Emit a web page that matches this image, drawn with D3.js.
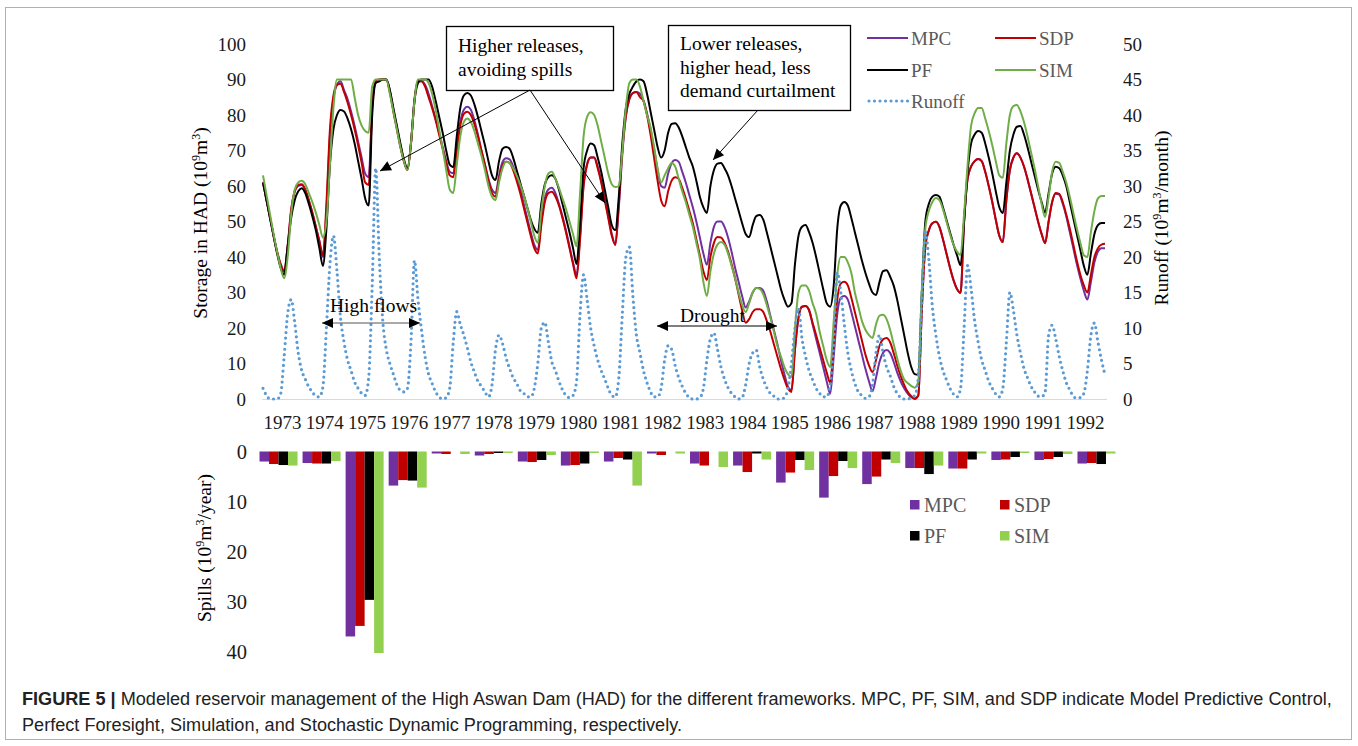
<!DOCTYPE html>
<html>
<head>
<meta charset="utf-8">
<script src="https://cdn.jsdelivr.net/npm/d3@7"></script>
<style>
  body { margin: 0; background: #fff; }
  svg text { font-family: "Liberation Serif", "Times New Roman", serif; }
</style>
</head>
<body>
<svg id="chart" width="1358" height="746"></svg>
<script>
// ===================== data =====================
var years = [1973, 1974, 1975, 1976, 1977, 1978, 1979, 1980, 1981, 1982,
  1983, 1984, 1985, 1986, 1987, 1988, 1989, 1990, 1991, 1992];

// monthly storage in HAD (10^9 m3), Jan 1973 .. Dec 1992
var storageMPC = [
  61, 56, 51, 46, 41.5, 38, 36, 43, 53, 58.5, 60, 60.3,
  59, 56, 52.5, 48.5, 44.5, 40, 53, 74, 84.5, 88.5, 89.5, 87,
  84.5, 81, 77, 72.5, 68, 63.5, 62.5, 83, 89.5, 90, 90, 90,
  87, 81.5, 76.5, 71.5, 67, 64.5, 72, 84.5, 89.5, 89.5, 88.5, 86,
  82.5, 79, 75, 71, 67, 64, 63.6, 71, 78, 81.5, 82.3, 81.5,
  78.5, 74.5, 70, 66, 62, 59, 58, 63, 66.8, 67.8, 67.5, 65.5,
  62.5, 59, 55, 51, 47, 43.5, 42, 50, 56.5, 59, 59.5, 58,
  55, 51.5, 47.5, 43, 38.5, 35, 46, 60.5, 66.2, 68, 68, 65.5,
  61.5, 56.5, 51.5, 46.5, 43.5, 54, 69, 79.5, 84.5, 86.2, 86.5, 86,
  84, 80.5, 76, 70.5, 64.5, 60, 59.5, 63.5, 66.5, 67.3, 66.8, 64,
  61, 57.5, 54, 50, 45.5, 41, 37.8, 44, 48.5, 50, 50, 48.5,
  45.5, 41.5, 37, 33, 29, 25.8, 27.5, 30, 31.3, 31.3, 30.5, 27.5,
  23.5, 19.5, 15.5, 11, 7, 3.5, 2.5, 14, 23, 26, 26.2, 25,
  21, 17, 13, 9, 5, 1.5, 12, 24, 28.5, 29, 28, 24.5,
  20.5, 16.5, 12.5, 8.5, 5, 2.2, 6, 10.5, 13, 13.8, 13, 10.5,
  7.5, 5, 3, 1.5, 0.5, 0.2, 1, 25, 43, 47.5, 49.5, 49.9,
  48.5, 45, 41, 37, 33.5, 31, 29.9, 50, 62, 65.5, 67, 67.6,
  67, 64, 60, 55.5, 50.5, 46, 44.2, 56, 64.5, 68, 69.2, 68,
  65.5, 62, 58, 54, 50, 46.5, 43.9, 50, 55.5, 57.8, 57.6, 55,
  51.5, 47, 42.5, 38, 34, 30.5, 28, 33, 38.5, 41.5, 42.5, 42.5
];
var storageSDP = [
  61, 56, 51, 46, 41.5, 38, 36, 43, 53.5, 58.5, 60.3, 60.5,
  59, 56, 52.5, 48.5, 44.5, 40.5, 55, 76, 85.5, 88.5, 88.8, 86.5,
  83.5, 80, 76, 71.5, 66.5, 61, 60.3, 82, 89.5, 90, 90, 90,
  86.5, 81, 76, 71, 67, 64.5, 72, 84, 89.5, 89.5, 88, 85,
  82, 78.5, 74.5, 70.5, 66.5, 63, 62.5, 70, 77, 80.3, 80.9, 80,
  77.5, 74, 70, 66, 61.5, 58, 57, 62, 65.8, 66.8, 66.5, 64.5,
  61.5, 58, 54, 50, 46, 42.5, 41, 49, 55.5, 58, 58.4, 57,
  54.5, 51, 47, 42.5, 38, 34, 45, 60, 66, 68, 68, 65,
  61, 56, 51, 46, 43.4, 55, 70, 80, 84.5, 86.2, 86.5, 85,
  84, 80, 74.5, 68, 61.5, 56, 54.3, 58.5, 61.5, 62.5, 62, 59.5,
  56.5, 53, 49.5, 45, 40.5, 36, 33.5, 40, 44, 45.6, 45.5, 44,
  41.5, 38, 34, 29.5, 25, 21.5, 22.5, 24.5, 25.3, 25.3, 24.5, 22,
  19, 15.5, 12, 8.5, 5.5, 3, 2, 14, 23, 26, 26.2, 25,
  21.5, 18, 14.5, 11, 7.5, 4.6, 16, 28, 32.5, 33, 32, 28.5,
  24.5, 20.5, 16.5, 12.5, 9.5, 7.6, 11, 15, 16.8, 17.2, 16, 13,
  9.5, 6.5, 4, 2, 0.8, 0, 1, 25, 43, 47.5, 49.5, 49.9,
  48.5, 45, 41, 37, 33.5, 31, 29.9, 50, 62, 65.5, 67, 67.6,
  67, 64, 60, 55.5, 50.5, 46, 44.2, 56, 64.5, 68, 69.2, 68,
  65.5, 62, 58, 54, 50, 46.5, 43.9, 50, 55.5, 58, 57.8, 55.5,
  52, 48, 43.5, 39, 35, 32, 30, 35, 40, 42.5, 43.5, 43.7
];
var storagePF = [
  61, 56, 51, 46, 41, 37, 35, 43, 51, 56, 58.5, 59.4,
  58, 55, 51.5, 47.5, 42.5, 37.5, 48, 66, 76, 80, 81.4, 81,
  79, 76, 72, 67, 62, 56.5, 54.5, 80, 89, 89.5, 90, 90,
  87, 82, 77, 72, 67.5, 65, 72, 84, 89, 90, 90, 90,
  88, 84, 79.5, 75, 70, 66, 65.3, 74, 82, 85.5, 86.2, 85.5,
  83, 79.5, 75.5, 71.5, 67, 63, 61.7, 67, 70.5, 71, 70.5, 68,
  64.5, 61, 57.5, 54, 50.5, 48, 46.8, 55, 60.5, 62.5, 63, 62,
  59, 55, 51, 47, 42.5, 38, 50, 65, 70, 72, 71.5, 68,
  64, 59, 54, 49, 47.6, 57, 72, 82, 86, 88, 89.5, 90,
  89.5, 86, 81, 76, 71, 68, 70, 75, 77.5, 77.7, 76.5, 74,
  71, 68, 65.5, 61.5, 57, 54, 52.4, 60, 64.5, 66.3, 66.5, 65,
  63, 60, 56.5, 53, 49.5, 46.5, 45.6, 49, 51.5, 51.8, 50.5, 47,
  43, 39, 35, 31, 28, 26, 27, 38, 46, 48.5, 49, 47,
  44, 40, 35.5, 31, 27, 26, 32, 48, 54.5, 55.5, 54.5, 51,
  47, 43, 39, 35.5, 32.5, 30, 29.3, 33, 36, 36.3, 34.5, 32,
  28, 23, 18, 13, 9, 7, 6.8, 30, 50, 55, 57, 57.5,
  57, 54, 50.5, 47, 43.5, 40.5, 37.7, 50, 64, 72, 74.5, 75.5,
  75, 72, 68, 63.5, 58.5, 54, 52.4, 61, 70, 74.5, 76.7, 76.9,
  74.5, 71, 67, 63, 59, 55.5, 52.5, 58, 63.5, 65.4, 65, 63,
  60, 55.5, 51, 46.5, 42, 37.5, 35, 41, 46.5, 49, 49.6, 49.6
];
var storageSIM = [
  63, 57.5, 52, 46.5, 41.5, 37, 34, 40, 52, 59, 61, 61.5,
  60.5, 58, 55.5, 52.5, 49, 45.5, 50, 66, 82, 90, 90, 90,
  90, 90, 85, 80, 77, 75.5, 75, 88, 90, 90, 90, 90,
  86, 81, 76, 71, 67, 64.5, 72, 84, 90, 90, 90, 89,
  86, 81.5, 76, 70.5, 64.5, 59, 58, 66, 74, 78, 79, 78,
  75.5, 72, 68.5, 64.5, 60, 57, 56, 61, 65, 66.8, 66.5, 65,
  63, 60.5, 57.5, 54, 50, 46, 44, 53, 60, 63.5, 64, 62,
  59.5, 56.5, 53.5, 50, 46.5, 43, 58, 74, 79.5, 80.8, 80, 77,
  72.5, 68, 63.5, 60.5, 59.7, 60, 70, 82, 89, 90, 90, 88,
  84, 80, 76.5, 71, 65, 61, 63, 65, 66.5, 65.5, 62, 58.5,
  55.5, 52, 48.5, 44, 39.5, 33, 29, 36, 41, 43.5, 44.2, 43.5,
  41, 37.5, 34, 30, 26.5, 24.5, 27, 30, 31.3, 31, 29.5, 26.5,
  23, 19, 15, 12, 9, 7, 6.2, 20, 30, 32, 32, 30.5,
  27, 24, 19, 15, 11, 9, 22, 35, 40, 40, 38.5, 35.5,
  30, 26, 22, 19.5, 18, 17.2, 21, 23.5, 23.7, 22.5, 19.5, 15.5,
  11.5, 8, 5.5, 4.5, 3.7, 3.2, 5, 30, 48, 53, 55.5, 56.6,
  56, 53.5, 50, 46.5, 43.5, 41.5, 40.6, 52, 66, 77, 80.5, 82,
  82, 79, 75.5, 71.5, 67, 63, 62.3, 72, 80, 82.5, 82.8, 81,
  78, 74, 69.5, 65, 60, 55, 51.3, 57, 64, 66.8, 66.5, 64,
  61, 57, 52.5, 48, 44, 40.5, 40, 47, 53, 56.5, 57.2, 57.2
];
// monthly runoff (10^9 m3/month), secondary axis
var runoff = [
  1.5, 0.5, 0, 0, 0, 0.7, 6, 12, 14, 10.8, 6.5, 4,
  2.8, 1.7, 1, 0.4, 0.3, 1.7, 10, 19, 23, 18, 11.5, 8,
  5.5, 4, 2.4, 1.5, 0.8, 0.5, 3, 16, 32.5, 20, 11, 7,
  5, 3.5, 2, 1.2, 1, 1.5, 8, 19.5, 14, 9.7, 6, 3.5,
  2.2, 1, 0.3, 0, 0.2, 1.5, 8, 12.3, 10.5, 9, 7.2, 5.2,
  3.8, 2.5, 1.8, 1, 0.3, 2, 7, 9, 7.8, 5.8, 4.3, 3,
  2.2, 1.2, 0.8, 0.3, 0.3, 1.5, 5, 10, 10.8, 8, 5.2, 4,
  2.5, 1.3, 0.5, 0.2, 0.5, 2.5, 12, 17.5, 14, 10, 7.5, 5.5,
  4, 2.8, 1.5, 0.5, 0.3, 3, 12, 20, 21.4, 14.5, 9, 6.5,
  4, 2.3, 1, 0.3, 0.3, 1.5, 5.5, 7.5, 7, 4.7, 3, 1.8,
  0.8, 0.2, 0, 0, 0.2, 1.5, 5.5, 8.5, 9.3, 7, 4.5, 2.8,
  1.6, 0.8, 0.3, 0, 0.2, 2, 5, 6.5, 6.9, 4.5, 2.8, 1.6,
  0.8, 0.4, 0, 0, 0.2, 1.5, 5, 10, 12.8, 8.5, 6, 4,
  2.7, 1.5, 0.8, 0.3, 0.3, 2, 8, 17.8, 15, 10.5, 6.5, 4,
  2.2, 1, 0.5, 0.1, 0.3, 2, 6.5, 9, 6.5, 4.5, 3.3, 1.8,
  0.8, 0.2, 0, 0, 0.2, 0.5, 3, 14, 23.5, 19.6, 13, 9,
  6, 4, 2.7, 1.5, 0.7, 0.3, 1.5, 10, 18.8, 15.5, 11, 8,
  5.5, 4, 2.5, 1.5, 0.7, 0.3, 1.5, 8, 15, 12.5, 9, 6.5,
  4.3, 3, 1.8, 1, 0.4, 0.3, 1, 9, 10.4, 8.5, 6, 4,
  2.3, 1.3, 0.4, 0.1, 0.2, 0.8, 4, 9, 10.7, 8, 5.5, 3.4
];

// yearly spills (10^9 m3/year)
var spillMPC = [2.0, 2.3, 36.9, 6.8, 0.4, 0.8, 2.0, 2.8, 2.0, 0.4, 2.4, 2.8, 6.2, 9.2, 6.5, 3.3, 3.4, 1.7, 1.7, 2.4];
var spillSDP = [2.5, 2.4, 34.8, 5.7, 0.5, 0.5, 2.1, 2.7, 1.3, 0.7, 2.8, 4.1, 4.2, 4.9, 5.0, 3.3, 3.4, 1.6, 1.5, 2.3];
var spillPF  = [2.7, 2.4, 29.6, 5.8, 0, 0.3, 1.7, 2.4, 1.6, 0, 0, 0.4, 1.7, 1.9, 1.6, 4.5, 1.6, 1.1, 1.1, 2.5];
var spillSIM = [2.8, 1.9, 40.2, 7.2, 0.5, 0.3, 0.7, 0.3, 6.8, 0.4, 3.1, 1.6, 3.7, 3.3, 2.3, 2.8, 0.4, 0.3, 0.5, 0.4];

var leftTicks = [0, 10, 20, 30, 40, 50, 60, 70, 80, 90, 100];
var rightTicks = [0, 5, 10, 15, 20, 25, 30, 35, 40, 45, 50];
var spillTicks = [0, 10, 20, 30, 40];

// ===================== drawing =====================
var svg = d3.select("#chart");
var tickCol = "#1a1a1a", legCol = "#595959";
var colMPC = "#7030A0", colSDP = "#C00000", colPF = "#000000", colSIMline = "#70AD47", colSIMbar = "#92D050", colRun = "#5B9BD5";

// frame
svg.append("rect").attr("x", 5.5).attr("y", 7.5).attr("width", 1346).attr("height", 732)
  .attr("fill", "none").attr("stroke", "#b0b0b0").attr("stroke-width", 1);

var x = d3.scaleLinear().domain([0, runoff.length - 1]).range([263, 1105]);
var yL = d3.scaleLinear().domain([0, 100]).range([399, 44]);
var yR = d3.scaleLinear().domain([0, 50]).range([399, 44]);

// left axis labels
svg.append("g").selectAll("text").data(leftTicks).enter().append("text")
  .attr("x", 246).attr("y", function(d) { return yL(d) + 6.5; })
  .attr("text-anchor", "end").attr("font-size", 19).attr("fill", tickCol)
  .text(function(d) { return d; });
// right axis labels
svg.append("g").selectAll("text").data(rightTicks).enter().append("text")
  .attr("x", 1123).attr("y", function(d) { return yR(d) + 6.5; })
  .attr("text-anchor", "start").attr("font-size", 19).attr("fill", tickCol)
  .text(function(d) { return d; });

// x axis line + year labels
svg.append("line").attr("x1", 262).attr("x2", 1107).attr("y1", 399.5).attr("y2", 399.5)
  .attr("stroke", "#d9d9d9").attr("stroke-width", 1);
svg.append("g").selectAll("text").data(years).enter().append("text")
  .attr("x", function(d, i) { return x(i * 12 + 5.5); }).attr("y", 429)
  .attr("text-anchor", "middle").attr("font-size", 19).attr("fill", tickCol)
  .text(function(d) { return d; });

// rotated titles with superscripts (shift is carried by the next tspan)
function rotTitle(cx, cy, parts, size) {
  var t = svg.append("text").attr("transform", "translate(" + cx + "," + cy + ") rotate(-90)")
    .attr("text-anchor", "middle").attr("font-size", size).attr("fill", "#000");
  var up = false;
  parts.forEach(function(p) {
    var ts = t.append("tspan").text(p.s);
    if (p.sup) {
      ts.attr("dy", up ? 0 : -7).attr("font-size", size * 0.62);
      up = true;
    } else if (up) {
      ts.attr("dy", 7);
      up = false;
    }
  });
}
rotTitle(207, 223, [{s: "Storage in HAD (10"}, {s: "9", sup: true}, {s: "m"}, {s: "3", sup: true}, {s: ")"}], 19.5);
rotTitle(1168, 218, [{s: "Runoff (10"}, {s: "9", sup: true}, {s: "m"}, {s: "3", sup: true}, {s: "/month)"}], 19.5);
rotTitle(211, 548, [{s: "Spills (10"}, {s: "9", sup: true}, {s: "m"}, {s: "3", sup: true}, {s: "/year)"}], 19.5);

// storage lines
var lineL = d3.line().x(function(d, i) { return x(i); }).y(function(d) { return yL(d); }).curve(d3.curveMonotoneX);
var lineR = d3.line().x(function(d, i) { return x(i); }).y(function(d) { return yR(d); }).curve(d3.curveMonotoneX);

[[storageMPC, colMPC], [storageSDP, colSDP], [storagePF, colPF], [storageSIM, colSIMline]].forEach(function(s) {
  svg.append("path").datum(s[0]).attr("d", lineL)
    .attr("fill", "none").attr("stroke", s[1]).attr("stroke-width", 2).attr("stroke-linejoin", "round");
});
svg.append("path").datum(runoff).attr("d", lineR)
  .attr("fill", "none").attr("stroke", colRun).attr("stroke-width", 3.2)
  .attr("stroke-dasharray", "0,5.5").attr("stroke-linecap", "round");

// top legend
var legTop = [
  {name: "MPC", col: colMPC, x: 867, y: 38},
  {name: "SDP", col: colSDP, x: 995, y: 38},
  {name: "PF", col: colPF, x: 867, y: 70},
  {name: "SIM", col: colSIMline, x: 995, y: 70},
  {name: "Runoff", col: colRun, x: 867, y: 101, dot: true}
];
legTop.forEach(function(l) {
  var ln = svg.append("line").attr("x1", l.x).attr("x2", l.x + 41).attr("y1", l.y).attr("y2", l.y)
    .attr("stroke", l.col);
  if (l.dot) ln.attr("stroke-width", 3.2).attr("stroke-dasharray", "0,5.5").attr("stroke-linecap", "round").attr("x1", l.x + 2);
  else ln.attr("stroke-width", 2);
  svg.append("text").attr("x", l.x + 44).attr("y", l.y + 7).attr("font-size", 19)
    .attr("fill", legCol).text(l.name);
});

// arrows
function arrowHead(x1, y1, x2, y2, len, half) {
  var a = Math.atan2(y2 - y1, x2 - x1);
  var bx = x2 - len * Math.cos(a), by = y2 - len * Math.sin(a);
  var px = -Math.sin(a) * half, py = Math.cos(a) * half;
  svg.append("path").attr("d", "M" + x2 + "," + y2 + "L" + (bx + px) + "," + (by + py) + "L" + (bx - px) + "," + (by - py) + "Z")
    .attr("fill", "#000");
}
function arrow(x1, y1, x2, y2, both, col) {
  svg.append("line").attr("x1", x1).attr("y1", y1).attr("x2", x2).attr("y2", y2)
    .attr("stroke", col || "#000").attr("stroke-width", 1);
  arrowHead(x1, y1, x2, y2, 11, 5);
  if (both) arrowHead(x2, y2, x1, y1, 11, 5);
}

// annotation boxes
function noteBox(bx, by, bw, bh, lines, tx, ty, lh) {
  svg.append("rect").attr("x", bx).attr("y", by).attr("width", bw).attr("height", bh)
    .attr("fill", "#fff").attr("stroke", "#000").attr("stroke-width", 1.3);
  lines.forEach(function(s, i) {
    svg.append("text").attr("x", tx).attr("y", ty + i * lh).attr("font-size", 19.5).attr("fill", "#000").text(s);
  });
}
noteBox(446.5, 26.5, 167, 64, ["Higher releases,", "avoiding spills"], 458, 52, 23.5);
noteBox(668.5, 25.5, 182, 85, ["Lower releases,", "higher head, less", "demand curtailment"], 680, 50, 23.5);
arrow(530, 90, 380, 171);
arrow(530, 90, 605, 203);
arrow(758, 110, 713, 160);

// high flows / drought
svg.append("text").attr("x", 330).attr("y", 312).attr("font-size", 19.5).attr("fill", "#000").text("High flows");
arrow(322, 323, 420, 323, true, "#555");
svg.append("text").attr("x", 680).attr("y", 322).attr("font-size", 19.5).attr("fill", "#000").text("Drought");
arrow(657, 326, 777, 326, true, "#000");

// ===================== spills bar chart =====================
var xb = d3.scaleBand().domain(years).range([257, 1118]).paddingInner(0.117).paddingOuter(0.0585);
var xs = d3.scaleBand().domain(["MPC", "SDP", "PF", "SIM"]).range([0, xb.bandwidth()]);
var yb = d3.scaleLinear().domain([0, 40]).range([451.5, 652]);

svg.append("g").selectAll("text").data(spillTicks).enter().append("text")
  .attr("x", 247).attr("y", function(d) { return yb(d) + 7; })
  .attr("text-anchor", "end").attr("font-size", 20.5).attr("fill", tickCol)
  .text(function(d) { return d; });

var spillSeries = [
  {name: "MPC", vals: spillMPC, col: colMPC},
  {name: "SDP", vals: spillSDP, col: colSDP},
  {name: "PF", vals: spillPF, col: colPF},
  {name: "SIM", vals: spillSIM, col: colSIMbar}
];
spillSeries.forEach(function(s) {
  svg.append("g").selectAll("rect").data(s.vals).enter().append("rect")
    .attr("x", function(d, i) { return xb(years[i]) + xs(s.name); })
    .attr("y", yb(0))
    .attr("width", xs.bandwidth())
    .attr("height", function(d) { return yb(d) - yb(0); })
    .attr("fill", s.col);
});

// bottom legend
var legBot = [
  {name: "MPC", col: colMPC, x: 910, y: 500},
  {name: "SDP", col: colSDP, x: 1000, y: 500},
  {name: "PF", col: colPF, x: 910, y: 531},
  {name: "SIM", col: colSIMbar, x: 1000, y: 531}
];
legBot.forEach(function(l) {
  svg.append("rect").attr("x", l.x).attr("y", l.y).attr("width", 9.5).attr("height", 9.5).attr("fill", l.col);
  svg.append("text").attr("x", l.x + 14).attr("y", l.y + 12).attr("font-size", 20)
    .attr("fill", legCol).text(l.name);
});

// ===================== caption =====================
var cap1 = svg.append("text").attr("x", 22).attr("y", 705)
  .style("font-family", "'Liberation Sans', Arial, sans-serif").attr("font-size", 16).attr("fill", "#222");
cap1.append("tspan").attr("font-weight", "bold").text("FIGURE 5 |");
cap1.append("tspan").text(" Modeled reservoir management of the High Aswan Dam (HAD) for the different frameworks. MPC, PF, SIM, and SDP indicate Model Predictive Control,");
var w1 = cap1.node().getComputedTextLength();
var capSize = 16 * 1311 / w1;
cap1.attr("font-size", capSize);
svg.append("text").attr("x", 22).attr("y", 731)
  .style("font-family", "'Liberation Sans', Arial, sans-serif").attr("font-size", capSize).attr("fill", "#222")
  .text("Perfect Foresight, Simulation, and Stochastic Dynamic Programming, respectively.");
</script>
</body>
</html>
